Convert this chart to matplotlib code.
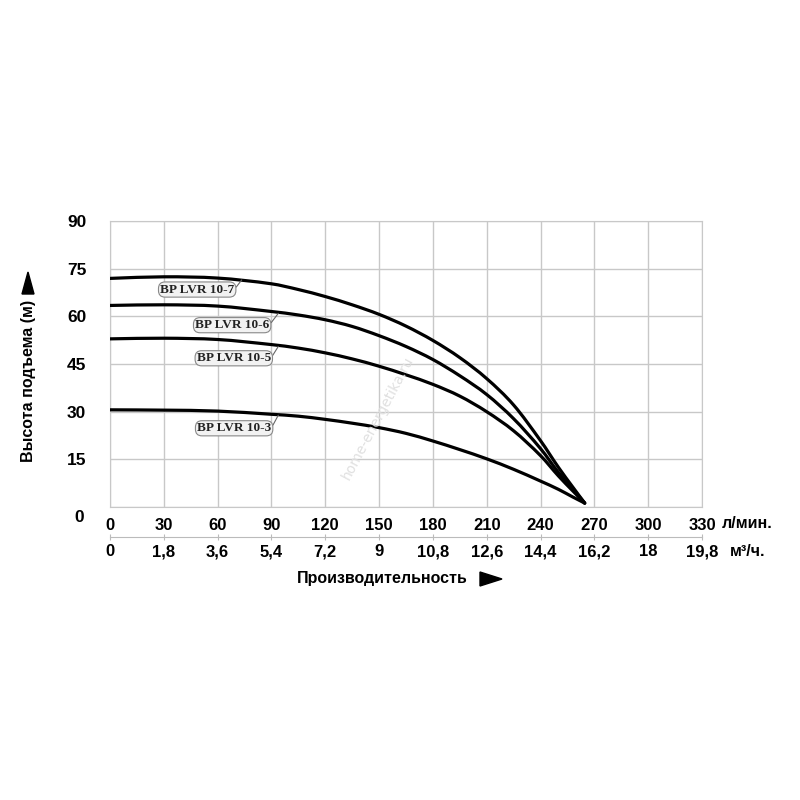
import matplotlib
matplotlib.use("Agg")
import matplotlib.pyplot as plt
from matplotlib.patches import Polygon, PathPatch
from matplotlib.path import Path

# --- Data ---
flow = [0, 30, 60, 90, 105, 120, 135, 150, 165, 180, 195, 210, 225, 240, 250, 258, 264.6]
head_10_7 = [71.9, 72.4, 72.0, 70.2, 68.4, 66.2, 63.6, 60.6, 56.9, 52.4, 47.0, 40.4, 32.1, 20.9, 12.5, 6.3, 1.3]
head_10_6 = [63.4, 63.6, 63.2, 61.5, 60.4, 58.9, 56.8, 53.9, 50.5, 46.4, 41.3, 35.4, 27.8, 18.4, 10.9, 5.7, 1.3]
head_10_5 = [52.9, 53.1, 52.7, 51.1, 50.0, 48.5, 46.6, 44.3, 41.6, 38.6, 34.9, 30.0, 24.0, 16.2, 9.8, 5.1, 1.3]
head_10_3 = [30.6, 30.5, 30.2, 29.2, 28.6, 27.6, 26.4, 25.0, 23.2, 20.8, 18.1, 15.2, 11.9, 8.2, 5.6, 3.2, 1.3]

series = [
    ("BP LVR 10-7", head_10_7, (48.6, 68.4), (73.4, 71.4)),
    ("BP LVR 10-6", head_10_6, (68.1, 57.2), (93.8, 60.9)),
    ("BP LVR 10-5", head_10_5, (69.0, 46.8), (93.8, 50.5)),
    ("BP LVR 10-3", head_10_3, (69.2, 24.8), (93.8, 28.9)),
]

lpm_ticks = [0, 30, 60, 90, 120, 150, 180, 210, 240, 270, 300, 330]
m3h_ticks = [0, 1.8, 3.6, 5.4, 7.2, 9, 10.8, 12.6, 14.4, 16.2, 18, 19.8]
m3h_labels = ["0", "1,8", "3,6", "5,4", "7,2", "9", "10,8", "12,6", "14,4", "16,2", "18", "19,8"]
head_ticks = [0, 15, 30, 45, 60, 75, 90]

SANS = ["Liberation Sans", "DejaVu Sans"]
GRID = "#c8c8c8"


def smooth_path(xs, ys):
    # cubic Hermite through the read points (non-uniform spacing), as Bezier segments
    n = len(xs)
    slopes = []
    for i in range(n):
        a, b = max(i - 1, 0), min(i + 1, n - 1)
        slopes.append((ys[b] - ys[a]) / (xs[b] - xs[a]))
    verts = [(xs[0], ys[0])]
    codes = [Path.MOVETO]
    for i in range(n - 1):
        h = xs[i + 1] - xs[i]
        verts += [(xs[i] + h / 3, ys[i] + slopes[i] * h / 3),
                  (xs[i + 1] - h / 3, ys[i + 1] - slopes[i + 1] * h / 3),
                  (xs[i + 1], ys[i + 1])]
        codes += [Path.CURVE4] * 3
    return Path(verts, codes)


fig = plt.figure(figsize=(8, 8), dpi=100)
ax = fig.add_axes([0.1375, 0.366, 0.74, 0.358])

for name, head, txt_pos, line_end in series:
    ax.add_patch(PathPatch(smooth_path(flow, head), fill=False, ec="black", lw=2.3,
                           capstyle="round", zorder=3))
    ax.annotate(name, xy=line_end, xytext=txt_pos, ha="center", va="center",
                fontsize=9.5, fontweight="bold", family="Liberation Serif", color="#222222",
                bbox=dict(boxstyle="round,pad=0.12,rounding_size=0.5", fc="#f2f2f2", ec="#888888", lw=0.8),
                arrowprops=dict(arrowstyle="-", color="#666666", lw=0.8, relpos=(1, 0.5),
                                shrinkA=0, shrinkB=0), zorder=4)

ax.set_xlim(0, 330)
ax.set_ylim(0, 90)
ax.grid(True, color=GRID, lw=1)
for s in ax.spines.values():
    s.set_color(GRID)

ax.set_xticks(lpm_ticks, [str(v) for v in lpm_ticks])
ax.set_yticks(head_ticks, [""] + [str(v) for v in head_ticks[1:]])
ax.tick_params(axis="both", length=0)
ax.tick_params(axis="x", pad=8)
ax.tick_params(axis="y", pad=17)
for lbl in ax.get_xticklabels():
    lbl.set_family(SANS); lbl.set_fontsize(12); lbl.set_fontweight("bold")
for lbl in ax.get_yticklabels():
    lbl.set_family(SANS); lbl.set_fontsize(12.5); lbl.set_fontweight("bold")
ax.text(-0.044, -0.037, "0", transform=ax.transAxes, ha="right", va="center",
        family=SANS, fontsize=12.5, fontweight="bold")

# second flow scale in m3/h
sec = ax.secondary_xaxis(-0.105, functions=(lambda q: q * 0.06, lambda q: q / 0.06))
sec.set_xticks(m3h_ticks, m3h_labels)
sec.spines["bottom"].set_color("#bbbbbb")
sec.tick_params(axis="x", direction="inout", length=4, color="#bbbbbb", pad=3)
for lbl in sec.get_xticklabels():
    lbl.set_family(SANS); lbl.set_fontsize(12); lbl.set_fontweight("bold")

# units and axis titles
fig.text(722 / 800, 1 - 523 / 800, "л/мин.", ha="left", va="center",
         family=SANS, fontsize=11.5, fontweight="bold")
fig.text(730 / 800, 1 - 552 / 800, "м³/ч.", ha="left", va="center",
         family=SANS, fontsize=11.5, fontweight="bold")
fig.text(382 / 800, 1 - 579 / 800, "Производительность", ha="center", va="center",
         family=SANS, fontsize=11.5, fontweight="bold")
fig.text(28 / 800, 1 - 381 / 800, "Высота подъема (м)", ha="center", va="center",
         rotation=90, family=SANS, fontsize=11.5, fontweight="bold")

# arrow triangles
fig.add_artist(Polygon([(480 / 800, 1 - 572 / 800), (480 / 800, 1 - 586 / 800), (502 / 800, 1 - 579 / 800)],
                       closed=True, transform=fig.transFigure, color="black"))
fig.add_artist(Polygon([(22 / 800, 1 - 294 / 800), (34 / 800, 1 - 294 / 800), (28 / 800, 1 - 272 / 800)],
                       closed=True, transform=fig.transFigure, color="black"))

# faint watermark
fig.text(378 / 800, 1 - 418 / 800, "home-energetika.ru", rotation=62, ha="center", va="center",
         fontsize=10, color="#e0e0e0", zorder=0)

fig.savefig("out.png", dpi=100, facecolor="white")
